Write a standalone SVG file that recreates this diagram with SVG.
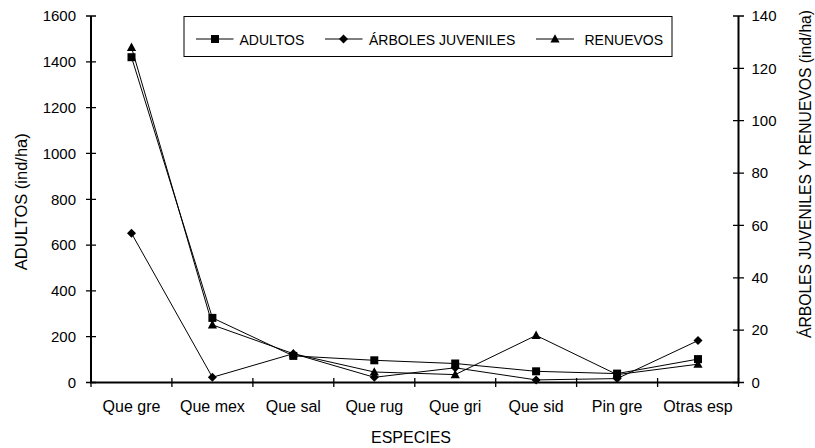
<svg xmlns="http://www.w3.org/2000/svg" xmlns:xlink="http://www.w3.org/1999/xlink" width="815" height="448" viewBox="0 0 815 448">
<style>
text{font-family:"Liberation Sans",Arial,sans-serif;fill:#000}
.tk{font-size:15px}
.tl{text-anchor:end}
.xl{font-size:16px;text-anchor:middle}
.lg{font-size:14px}
.ax{stroke:#000;stroke-width:2;fill:none}
.tick{stroke:#000;stroke-width:1.3;fill:none}
.ser{stroke:#000;stroke-width:1;fill:none}
</style>
<defs>
<path id="sq" d="M-4,-4H4V4H-4Z" fill="#000"/>
<path id="dm" d="M0,-4.5L4.5,0L0,4.5L-4.5,0Z" fill="#000"/>
<path id="tr" d="M0,-4.8L4.6,3.6L-4.6,3.6Z" fill="#000"/>
</defs>
<rect width="815" height="448" fill="#fff"/>
<g id="axes">
<path class="ax" d="M91,16V382.5H738.5V16"/>
<path class="tick" d="M86,16H96M86,61.8H96M86,107.6H96M86,153.4H96M86,199.3H96M86,245.1H96M86,290.9H96M86,336.7H96M86,382.5H96"/>
<path class="tick" d="M733,16H744M733,68.3H744M733,120.7H744M733,173.1H744M733,225.4H744M733,277.8H744M733,330.1H744M733,382.5H744"/>
<path class="tick" d="M91,378V387M171.9,378V387M252.9,378V387M333.8,378V387M414.8,378V387M495.7,378V387M576.6,378V387M657.6,378V387M738.5,378V387"/>
</g>
<g id="left-labels" class="tk tl">
<text x="76" y="21.3">1600</text>
<text x="76" y="67.1">1400</text>
<text x="76" y="112.9">1200</text>
<text x="76" y="158.7">1000</text>
<text x="76" y="204.6">800</text>
<text x="76" y="250.4">600</text>
<text x="76" y="296.2">400</text>
<text x="76" y="342">200</text>
<text x="76" y="387.8">0</text>
</g>
<g id="right-labels" class="tk">
<text x="751.5" y="21.3">140</text>
<text x="751.5" y="73.6">120</text>
<text x="751.5" y="126">100</text>
<text x="751.5" y="178.4">80</text>
<text x="751.5" y="230.7">60</text>
<text x="751.5" y="283.1">40</text>
<text x="751.5" y="335.4">20</text>
<text x="751.5" y="387.8">0</text>
</g>
<g id="x-labels" class="xl">
<text x="131.5" y="412">Que gre</text>
<text x="212.4" y="412">Que mex</text>
<text x="293.3" y="412">Que sal</text>
<text x="374.3" y="412">Que rug</text>
<text x="455.2" y="412">Que gri</text>
<text x="536.1" y="412">Que sid</text>
<text x="617.1" y="412">Pin gre</text>
<text x="698" y="412">Otras esp</text>
</g>
<g id="titles">
<text x="411" y="443" style="font-size:16px;text-anchor:middle">ESPECIES</text>
<text transform="translate(26.5,201.7) rotate(-90)" style="font-size:16.5px;text-anchor:middle">ADULTOS (ind/ha)</text>
<text transform="translate(811,174) rotate(-90)" style="font-size:15.7px;text-anchor:middle">ÁRBOLES JUVENILES Y RENUEVOS (ind/ha)</text>
</g>
<g id="connectors">
<polyline id="adultos-line" class="ser" points="131.5,57.2 212.4,317.9 293.3,355.9 374.3,360.3 455.2,363.5 536.1,371.3 617.1,373.6 698,359.1"/>
<polyline id="juveniles-line" class="ser" points="131.5,233.3 212.4,377.3 293.3,353.7 374.3,377.3 455.2,367.8 536.1,379.9 617.1,378.6 698,340.6"/>
<polyline id="renuevos-line" class="ser" points="131.5,47.4 212.4,324.9 293.3,353.7 374.3,372 455.2,374.6 536.1,335.4 617.1,374.6 698,364.2"/>
</g>
<g id="adultos-markers">
<use xlink:href="#sq" x="131.5" y="57.2"/>
<use xlink:href="#sq" x="212.4" y="317.9"/>
<use xlink:href="#sq" x="293.3" y="355.9"/>
<use xlink:href="#sq" x="374.3" y="360.3"/>
<use xlink:href="#sq" x="455.2" y="363.5"/>
<use xlink:href="#sq" x="536.1" y="371.3"/>
<use xlink:href="#sq" x="617.1" y="373.6"/>
<use xlink:href="#sq" x="698" y="359.1"/>
</g>
<g id="juveniles-markers">
<use xlink:href="#dm" x="131.5" y="233.3"/>
<use xlink:href="#dm" x="212.4" y="377.3"/>
<use xlink:href="#dm" x="293.3" y="353.7"/>
<use xlink:href="#dm" x="374.3" y="377.3"/>
<use xlink:href="#dm" x="455.2" y="367.8"/>
<use xlink:href="#dm" x="536.1" y="379.9"/>
<use xlink:href="#dm" x="617.1" y="378.6"/>
<use xlink:href="#dm" x="698" y="340.6"/>
</g>
<g id="renuevos-markers">
<use xlink:href="#tr" x="131.5" y="47.4"/>
<use xlink:href="#tr" x="212.4" y="324.9"/>
<use xlink:href="#tr" x="293.3" y="353.7"/>
<use xlink:href="#tr" x="374.3" y="372"/>
<use xlink:href="#tr" x="455.2" y="374.6"/>
<use xlink:href="#tr" x="536.1" y="335.4"/>
<use xlink:href="#tr" x="617.1" y="374.6"/>
<use xlink:href="#tr" x="698" y="364.2"/>
</g>
<g id="legend">
<rect x="184" y="16.5" width="488" height="40" fill="#fff" stroke="#000" stroke-width="1"/>
<path class="ser" d="M196,39H233.5M325,39H362.5M536,39H574"/>
<use xlink:href="#sq" x="215" y="39"/>
<use xlink:href="#dm" x="343.5" y="39"/>
<use xlink:href="#tr" x="555" y="39"/>
<text class="lg" x="239.5" y="44.5">ADULTOS</text>
<text class="lg" x="369" y="44.5">ÁRBOLES JUVENILES</text>
<text class="lg" x="584.5" y="44.5">RENUEVOS</text>
</g>
</svg>
